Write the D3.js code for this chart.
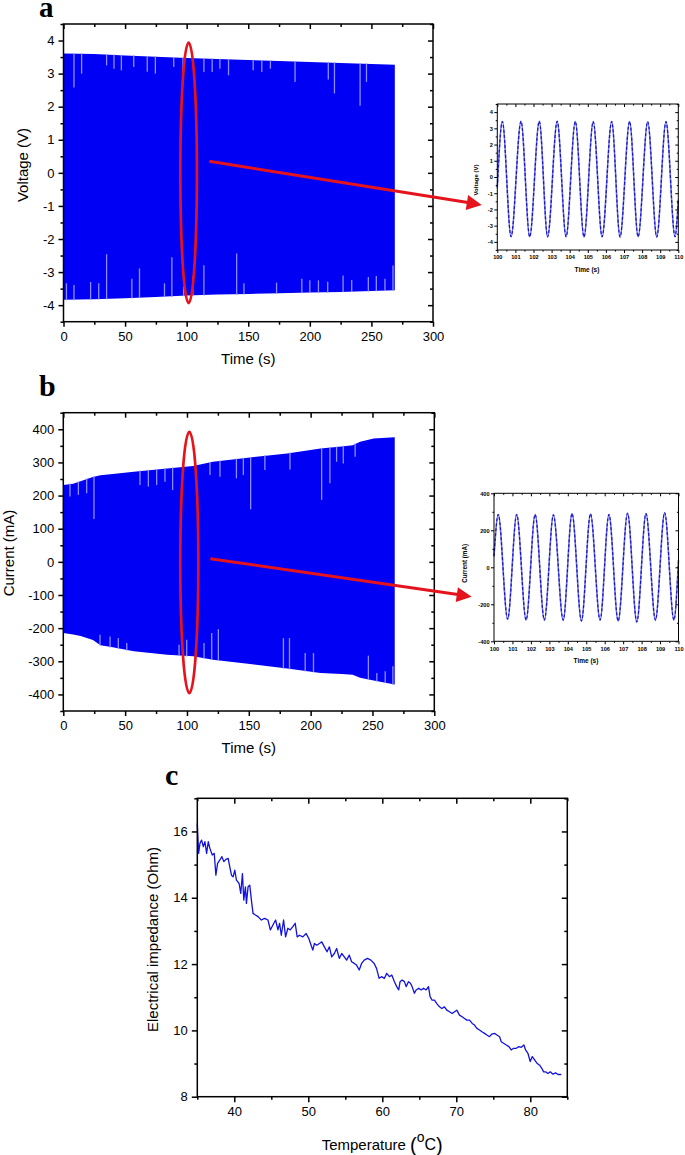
<!DOCTYPE html>
<html><head><meta charset="utf-8">
<script src="https://cdn.jsdelivr.net/npm/d3@7"></script>
<style>body{margin:0;background:#fff}</style>
</head><body>
<svg id="chart" width="685" height="1155"></svg>
<script>
// ---------- DATA ----------
// Panel a: voltage envelope over time (s)
const voltTime  = [0, 25, 50, 75, 100, 125, 150, 175, 200, 225, 250, 269];
const voltUpper = [3.61, 3.59, 3.55, 3.51, 3.47, 3.44, 3.41, 3.38, 3.35, 3.32, 3.29, 3.27];
const voltLower = [-3.84, -3.82, -3.79, -3.75, -3.71, -3.68, -3.66, -3.64, -3.62, -3.60, -3.57, -3.55];
const voltSpikeTopT = [8.5, 14.7, 35, 41, 47, 57, 68, 74.6, 89.5, 97, 114, 120.7, 127, 134, 154, 161, 168, 188, 215, 220, 240.8, 246];
const voltSpikeTopV = [2.58, 3.0, 3.25, 3.15, 3.1, 3.2, 3.06, 3.0, 3.2, 3.05, 3.05, 3.05, 3.15, 2.95, 3.1, 3.05, 3.15, 2.75, 2.82, 2.4, 2.03, 2.75];
const voltSpikeBotT = [2.4, 8.5, 22, 28.6, 35, 55.5, 61.7, 82, 88, 97.5, 105, 114, 140.6, 146.5, 173, 193.5, 200, 207, 214.5, 227, 234, 247.5, 254, 261, 267.5];
const voltSpikeBotV = [-3.34, -3.39, -3.3, -3.34, -2.46, -3.2, -2.89, -3.34, -2.55, -3.44, -3.14, -2.79, -2.44, -3.34, -3.32, -3.2, -3.25, -3.25, -3.29, -3.1, -3.24, -3.15, -3.12, -3.2, -2.8];

// Panel b: current envelope (mA)
const currTime  = [0, 8, 14, 19, 24, 30, 40, 57, 84, 105, 121, 151, 181, 208, 225, 234, 240, 251, 268];
const currUpper = [232, 236, 243, 250, 256, 261, 265, 272, 282, 289, 302, 315, 327, 342, 348, 352, 362, 372, 376];
const currLower = [-215, -219, -224, -230, -236, -252, -258, -270, -280, -285, -295, -308, -322, -335, -338, -341, -350, -358, -370];
const currSpikeTopT = [5.4, 12.2, 18.9, 24.8, 62, 68.8, 75.5, 82.2, 88.4, 118.6, 126.7, 140, 145.6, 151.5, 163, 183.3, 208.9, 215.6, 221, 226.4, 236];
const currSpikeTopV = [197, 202, 207, 129, 232, 227, 232, 242, 217, 262, 257, 252, 262, 159, 277, 279, 187, 237, 302, 297, 317];
const currSpikeBotT = [29.7, 37.8, 44.5, 51.3, 93.6, 99.8, 113.8, 120, 125.4, 178, 182.9, 195.6, 202.3, 246.7, 253.5, 260.3, 266.5];
const currSpikeBotV = [-220, -225, -230, -245, -250, -235, -245, -215, -203, -230, -230, -275, -275, -283, -335, -330, -315];

// Insets: waveform extrema 100–110 s
const voltZoomT = [100.0, 100.28, 100.76, 101.31, 101.79, 102.32, 102.78, 103.31, 103.80, 104.31, 104.79, 105.30, 105.79, 106.32, 106.78, 107.31, 107.78, 108.31, 108.81, 109.32, 109.82, 110.0];
const voltZoomV = [-0.65, 3.42, -3.68, 3.43, -3.68, 3.43, -3.69, 3.43, -3.68, 3.42, -3.69, 3.42, -3.68, 3.42, -3.69, 3.42, -3.68, 3.41, -3.69, 3.41, -3.68, -1.4];
const currZoomT = [100.0, 100.23, 100.74, 101.23, 101.74, 102.23, 102.73, 103.22, 103.75, 104.23, 104.74, 105.23, 105.75, 106.23, 106.73, 107.24, 107.74, 108.24, 108.75, 109.25, 109.75, 110.0];
const currZoomI = [60, 285, -280, 285, -285, 285, -285, 283, -285, 290, -290, 288, -285, 285, -290, 292, -295, 290, -285, 295, -285, 40];

// Panel c: impedance vs temperature
const tempC = [35.00,35.18,35.36,35.58,35.81,36.03,36.26,36.48,36.70,37.02,37.29,37.51,37.74,38.05,38.32,38.59,38.86,39.17,39.39,39.62,39.84,40.07,40.29,40.65,40.87,41.10,41.28,41.50,41.64,41.86,42.09,42.31,42.53,42.85,43.21,43.65,44.10,44.55,44.87,45.22,45.58,45.90,46.12,46.35,46.66,46.93,47.24,47.56,47.91,48.23,48.50,48.81,49.26,49.71,50.07,50.38,50.61,50.83,51.14,51.50,51.82,52.17,52.53,52.85,53.16,53.52,53.83,54.19,54.51,54.87,55.18,55.54,55.85,56.21,56.52,56.88,57.20,57.56,58.00,58.45,58.90,59.22,59.57,59.89,60.28,60.60,60.96,61.28,61.64,61.95,62.22,62.40,62.67,62.99,63.22,63.53,63.80,64.03,64.34,64.57,64.93,65.25,65.56,65.92,66.24,66.46,66.73,67.05,67.37,67.73,68.04,68.40,68.72,69.08,69.44,69.76,70.07,70.43,70.79,71.11,71.43,71.79,72.15,72.46,72.78,73.14,73.46,73.82,74.13,74.49,74.81,75.17,75.49,75.85,76.07,76.39,76.75,77.11,77.42,77.74,78.10,78.46,78.78,79.14,79.36,79.68,79.99,80.27,80.58,80.90,81.26,81.57,81.80,82.07,82.39,82.70,83.06,83.42,83.74,84.19];
const impedance = [16.24,15.34,15.64,15.74,15.54,15.69,15.34,15.69,15.49,15.29,15.34,14.68,15.04,15.14,15.24,15.09,15.16,15.19,14.93,14.68,14.63,14.83,14.53,14.43,14.13,14.73,13.93,14.33,13.83,14.33,14.38,13.93,13.53,13.48,13.43,13.33,13.38,13.33,13.03,13.18,13.33,13.03,13.23,12.87,13.33,12.82,13.08,13.03,13.13,13.23,12.82,12.87,12.82,12.92,12.77,12.57,12.42,12.62,12.57,12.62,12.67,12.52,12.37,12.52,12.22,12.32,12.47,12.17,12.32,12.22,12.12,12.27,12.07,12.02,11.97,11.82,12.02,12.12,12.17,12.12,12.02,11.87,11.57,11.62,11.57,11.72,11.62,11.67,11.47,11.32,11.22,11.47,11.52,11.47,11.32,11.47,11.42,11.32,11.12,11.22,11.27,11.22,11.27,11.22,11.32,11.02,10.91,10.91,10.81,10.71,10.66,10.71,10.61,10.56,10.51,10.56,10.61,10.46,10.41,10.36,10.31,10.31,10.21,10.16,10.06,10.01,9.96,9.91,9.86,9.81,9.89,9.91,9.86,9.81,9.66,9.61,9.56,9.51,9.41,9.46,9.46,9.51,9.49,9.56,9.41,9.31,9.06,9.21,9.11,9.01,8.95,8.85,8.75,8.75,8.70,8.75,8.68,8.72,8.67,8.67];

// Tick values
const timeTicks = [0, 50, 100, 150, 200, 250, 300];
const timeMinor = [25, 75, 125, 175, 225, 275];
const voltTicks = [-4, -3, -2, -1, 0, 1, 2, 3, 4];
const voltMinor = [-4.5, -3.5, -2.5, -1.5, -0.5, 0.5, 1.5, 2.5, 3.5, 4.5];
const currTicks = [-400, -300, -200, -100, 0, 100, 200, 300, 400];
const currMinor = [-450, -350, -250, -150, -50, 50, 150, 250, 350, 450];
const zoomTimeTicks = [100, 101, 102, 103, 104, 105, 106, 107, 108, 109, 110];
const zoomTimeMinor = [100.5, 101.5, 102.5, 103.5, 104.5, 105.5, 106.5, 107.5, 108.5, 109.5];
const zoomCurrTicks = [-400, -200, 0, 200, 400];
const zoomCurrMinor = [-300, -100, 100, 300];
const tempTicks = [40, 50, 60, 70, 80];
const tempMinor = [35, 45, 55, 65, 75, 85];
const impTicks = [8, 10, 12, 14, 16];
const impMinor = [9, 11, 13, 15, 17];

// ---------- DRAWING ----------
const svg = d3.select("#chart");
const FONT = "Arial, 'Liberation Sans', sans-serif";
const SERIF = "'Liberation Serif', 'Times New Roman', serif";
const BLUE = "#0000f4", SPIKE = "#8d8dff", RED = "#e5141c";

function frame(x, y, o) {
  const g = svg.append("g");
  const [x0, x1] = x.range(), [yb, yt] = y.range();
  const styleAxis = (sel, labels) => {
    sel.select(".domain").remove();
    sel.selectAll("line").attr("stroke", "#000").attr("stroke-width", o.sw);
    sel.attr("font-family", FONT).attr("font-size", o.fs).attr("font-weight", o.fw || "normal");
    if (!labels) sel.selectAll("text").remove();
  };
  const fmt = d => String(d);
  g.append("g").attr("transform", `translate(0,${yb})`)
    .call(d3.axisBottom(x).tickValues(o.xTicks).tickSize(o.major).tickPadding(o.xPad).tickFormat(fmt))
    .call(s => styleAxis(s, true));
  g.append("g").attr("transform", `translate(0,${yb})`)
    .call(d3.axisBottom(x).tickValues(o.xMinor).tickSize(o.minor).tickFormat(""))
    .call(s => styleAxis(s, false));
  g.append("g").attr("transform", `translate(0,${yt})`)
    .call(d3.axisBottom(x).tickValues(o.xTicks).tickSize(o.major).tickFormat(""))
    .call(s => styleAxis(s, false));
  g.append("g").attr("transform", `translate(0,${yt})`)
    .call(d3.axisBottom(x).tickValues(o.xMinor).tickSize(o.minor).tickFormat(""))
    .call(s => styleAxis(s, false));
  g.append("g").attr("transform", `translate(${x0},0)`)
    .call(d3.axisLeft(y).tickValues(o.yTicks).tickSize(o.major).tickPadding(o.yPad).tickFormat(fmt))
    .call(s => styleAxis(s, true));
  g.append("g").attr("transform", `translate(${x0},0)`)
    .call(d3.axisLeft(y).tickValues(o.yMinor).tickSize(o.minor).tickFormat(""))
    .call(s => styleAxis(s, false));
  g.append("g").attr("transform", `translate(${x1},0)`)
    .call(d3.axisLeft(y).tickValues(o.yTicks).tickSize(o.major).tickFormat(""))
    .call(s => styleAxis(s, false));
  g.append("g").attr("transform", `translate(${x1},0)`)
    .call(d3.axisLeft(y).tickValues(o.yMinor).tickSize(o.minor).tickFormat(""))
    .call(s => styleAxis(s, false));
  g.append("rect").attr("x", x0).attr("y", yt).attr("width", x1 - x0).attr("height", yb - yt)
    .attr("fill", "none").attr("stroke", "#000").attr("stroke-width", o.sw);
  return g;
}

function label(txt, x, y, fs, opts = {}) {
  const t = svg.append("text").attr("x", x).attr("y", y).attr("font-family", opts.family || FONT)
    .attr("font-size", fs).attr("font-weight", opts.weight || "normal")
    .attr("text-anchor", opts.anchor || "middle").attr("fill", "#000").text(txt);
  if (opts.rotate) t.attr("transform", `rotate(-90,${x},${y})`).attr("dy", "0.35em");
  return t;
}

function envelopePanel(x, y, T, U, L, stT, stV, sbT, sbV) {
  const g = svg.append("g");
  g.append("path").datum(T.map((t, i) => [t, U[i], L[i]]))
    .attr("fill", BLUE)
    .attr("d", d3.area().x(d => x(d[0])).y0(d => y(d[2])).y1(d => y(d[1])));
  const up = d3.scaleLinear().domain(T).range(U);
  const lo = d3.scaleLinear().domain(T).range(L);
  g.selectAll(".st").data(stT.map((t, i) => [t, stV[i]])).join("line")
    .attr("x1", d => x(d[0])).attr("x2", d => x(d[0]))
    .attr("y1", d => y(up(d[0])) - 0.5).attr("y2", d => y(d[1]))
    .attr("stroke", SPIKE).attr("stroke-width", 1.3);
  g.selectAll(".sb").data(sbT.map((t, i) => [t, sbV[i]])).join("line")
    .attr("x1", d => x(d[0])).attr("x2", d => x(d[0]))
    .attr("y1", d => y(lo(d[0])) + 0.5).attr("y2", d => y(d[1]))
    .attr("stroke", SPIKE).attr("stroke-width", 1.3);
}

function waveInset(x, y, T, V) {
  const line = d3.line().x(d => x(d[0])).y(d => y(d[1])).curve(d3.curveMonotoneX);
  const pts = T.map((t, i) => [t, V[i]]);
  svg.append("path").datum(pts).attr("fill", "none").attr("stroke", "#7272ea").attr("stroke-width", 1.6).attr("d", line);
  svg.append("path").datum(pts).attr("fill", "none").attr("stroke", "#1616c8").attr("stroke-width", 1.2)
    .attr("stroke-dasharray", "3,2").attr("d", line);
}

function ellipse(x, y, t, v, dt, dv) {
  svg.append("ellipse").attr("cx", x(t)).attr("cy", y(v))
    .attr("rx", x(t + dt) - x(t)).attr("ry", y(v - dv) - y(v))
    .attr("fill", "none").attr("stroke", RED).attr("stroke-width", 2.7);
}

function arrow(p0, p1) {
  const ang = Math.atan2(p1[1] - p0[1], p1[0] - p0[0]);
  const L = 15, W = 7.5;
  const bx = p1[0] - L * Math.cos(ang), by = p1[1] - L * Math.sin(ang);
  svg.append("line").attr("x1", p0[0]).attr("y1", p0[1]).attr("x2", bx + 1).attr("y2", by)
    .attr("stroke", RED).attr("stroke-width", 3);
  const nx = -Math.sin(ang) * W, ny = Math.cos(ang) * W;
  svg.append("path").attr("d", `M${p1[0]},${p1[1]}L${bx + nx},${by + ny}L${bx - nx},${by - ny}Z`).attr("fill", RED);
}

// ---- Panel a ----
const xA = d3.scaleLinear().domain([0, 300]).range([63.5, 433]);
const yA = d3.scaleLinear().domain([-4.5, 4.5]).range([321.7, 24]);
envelopePanel(xA, yA, voltTime, voltUpper, voltLower, voltSpikeTopT, voltSpikeTopV, voltSpikeBotT, voltSpikeBotV);
frame(xA, yA, {xTicks: timeTicks, xMinor: timeMinor, yTicks: voltTicks, yMinor: voltMinor,
  major: 5, minor: 3, sw: 1.5, fs: 13, xPad: 5, yPad: 4});
label("Time (s)", 248.3, 364, 15);
label("Voltage (V)", 22.5, 165, 15, {rotate: true});
label("a", 39, 17, 29, {family: SERIF, weight: "bold", anchor: "start"});

// ---- Inset a ----
const xIA = d3.scaleLinear().domain([100, 110]).range([497.3, 678.3]);
const yIA = d3.scaleLinear().domain([-4.5, 4.5]).range([250, 104]);
waveInset(xIA, yIA, voltZoomT, voltZoomV);
frame(xIA, yIA, {xTicks: zoomTimeTicks, xMinor: zoomTimeMinor, yTicks: voltTicks, yMinor: voltMinor,
  major: 3, minor: 1.6, sw: 1, fs: 5.6, fw: "bold", xPad: 2.5, yPad: 1.5});
label("Time (s)", 587, 271.5, 6.5, {weight: "bold"});
label("Voltage (V)", 476, 180, 6, {rotate: true, weight: "bold"});

// ---- Panel b ----
const xB = d3.scaleLinear().domain([0, 300]).range([63.3, 434.3]);
const yB = d3.scaleLinear().domain([-450, 450]).range([711, 412.7]);
envelopePanel(xB, yB, currTime, currUpper, currLower, currSpikeTopT, currSpikeTopV, currSpikeBotT, currSpikeBotV);
frame(xB, yB, {xTicks: timeTicks, xMinor: timeMinor, yTicks: currTicks, yMinor: currMinor,
  major: 5, minor: 3, sw: 1.5, fs: 13, xPad: 5, yPad: 4});
label("Time (s)", 248.8, 753.3, 15);
label("Current (mA)", 8.5, 553, 15, {rotate: true});
label("b", 39, 396, 30, {family: SERIF, weight: "bold", anchor: "start"});

// ---- Inset b ----
const xIB = d3.scaleLinear().domain([100, 110]).range([494, 678.5]);
const yIB = d3.scaleLinear().domain([-400, 400]).range([641.3, 493.3]);
waveInset(xIB, yIB, currZoomT, currZoomI);
frame(xIB, yIB, {xTicks: zoomTimeTicks, xMinor: zoomTimeMinor, yTicks: zoomCurrTicks, yMinor: zoomCurrMinor,
  major: 3, minor: 1.6, sw: 1, fs: 5.6, fw: "bold", xPad: 2.5, yPad: 1.5});
label("Time (s)", 586, 662.5, 6.5, {weight: "bold"});
label("Current (mA)", 464.3, 563.3, 6.3, {rotate: true, weight: "bold"});

// ---- Annotations ----
ellipse(xA, yA, 101.6, 0, 6.74, 3.94);
arrow([xA(118.4), yA(0.35)], [xIA(99.14), yIA(-1.72)]);
ellipse(xB, yB, 101.9, -2, 7.3, 394);
arrow([xB(118.9), yB(9.5)], [xIB(98.79), yIB(-159)]);

// ---- Panel c ----
const xC = d3.scaleLinear().domain([35, 85]).range([197.3, 567.3]);
const yC = d3.scaleLinear().domain([8, 17]).range([1096.7, 798.3]);
svg.append("path").datum(tempC.map((t, i) => [t, impedance[i]]))
  .attr("fill", "none").attr("stroke", "#1212dc").attr("stroke-width", 1.3).attr("stroke-linejoin", "round")
  .attr("d", d3.line().x(d => xC(d[0])).y(d => yC(d[1])));
frame(xC, yC, {xTicks: tempTicks, xMinor: tempMinor, yTicks: impTicks, yMinor: impMinor,
  major: 5.5, minor: 3, sw: 1.5, fs: 13, xPad: 5, yPad: 4});
label("Electrical impedance (Ohm)", 152.5, 939.5, 15, {rotate: true});
label("c", 165, 785, 30, {family: SERIF, weight: "bold", anchor: "start"});
const tl = svg.append("text").attr("x", 321.7).attr("y", 1150).attr("font-family", FONT).attr("font-size", 15).attr("fill", "#000");
tl.append("tspan").text("Temperature ");
tl.append("tspan").attr("font-size", 20).attr("dy", 1.5).text("(");
tl.append("tspan").attr("font-size", 14).attr("dy", -9.5).text("o");
tl.append("tspan").attr("font-size", 16).attr("dy", 8).text("C");
tl.append("tspan").attr("font-size", 20).attr("dy", 1.5).text(")");
</script>
</body></html>
